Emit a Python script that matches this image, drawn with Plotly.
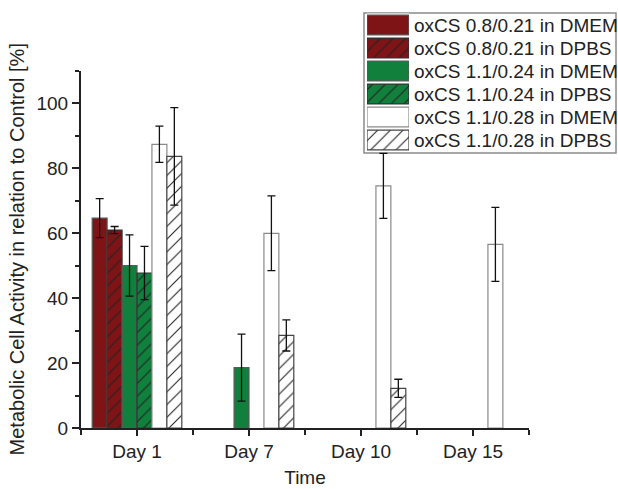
import plotly.graph_objects as go

days = ["Day 1", "Day 7", "Day 10", "Day 15"]
day_pos = [0, 1, 2, 3]

series_names = [
    "oxCS 0.8/0.21 in DMEM",
    "oxCS 0.8/0.21 in DPBS",
    "oxCS 1.1/0.24 in DMEM",
    "oxCS 1.1/0.24 in DPBS",
    "oxCS 1.1/0.28 in DMEM",
    "oxCS 1.1/0.28 in DPBS",
]
values = [
    [64.6, None, None, None],
    [60.9, None, None, None],
    [50.0, 18.6, None, None],
    [47.7, None, None, None],
    [87.3, 59.9, 74.5, 56.5],
    [83.6, 28.5, 12.2, None],
]
errors = [
    [6.0, None, None, None],
    [1.1, None, None, None],
    [9.4, 10.3, None, None],
    [8.2, None, None, None],
    [5.6, 11.5, 10.0, 11.4],
    [15.0, 4.8, 2.8, None],
]

RED = "#7e1416"
GREEN = "#10803c"
fills = [RED, RED, GREEN, GREEN, "#ffffff", "#ffffff"]
hatched = [False, True, False, True, False, True]
outlines = ["#5a5a5a", "#333333", "#5a5a5a", "#333333", "#8a8a8a", "#444444"]

FONT = "Liberation Sans, Arial, sans-serif"
INK = "#222222"


def marker_for(i):
    m = dict(color=fills[i], line=dict(color=outlines[i], width=1.2))
    if hatched[i]:
        m["pattern"] = dict(shape="/", fgcolor="#222222", bgcolor=fills[i],
                            size=9, solidity=0.12, fillmode="replace")
    return m


fig = go.Figure()
for i, name in enumerate(series_names):
    fig.add_trace(go.Bar(
        x=day_pos, y=values[i], name=name, showlegend=False,
        marker=marker_for(i),
        error_y=dict(type="data", array=errors[i], visible=True,
                     color="#111111", thickness=1.3, width=4),
    ))

# custom legend: swatches drawn as bars on an inset axis
for i, name in enumerate(series_names):
    fig.add_trace(go.Bar(
        x=[1], y=[name], orientation="h", xaxis="x2", yaxis="y2",
        width=0.86, showlegend=False, hoverinfo="skip",
        marker=marker_for(i),
    ))

W, H = 618, 489
ML, MR, MT, MB = 81, 1, 10, 489 - 428
PW, PH = W - ML - MR, H - MT - MB


def px(xp):
    return (xp - ML) / PW


def py(yp):
    return (H - MB - yp) / PH


fig.add_shape(type="rect", xref="paper", yref="paper",
              x0=px(364), x1=px(616), y0=py(153), y1=py(13),
              line=dict(color="#8a8a8a", width=1.5), fillcolor="white",
              layer="below")

fig.update_layout(
    width=W, height=H,
    margin=dict(l=ML, r=MR, t=MT, b=MB),
    paper_bgcolor="white", plot_bgcolor="white",
    barmode="group", bargap=0.2, bargroupgap=0,
    font=dict(family=FONT, size=19, color=INK),
    xaxis=dict(
        domain=[0, px(529)],
        range=[-0.5, 3.5], tickvals=day_pos, ticktext=days,
        showline=True, linecolor=INK, linewidth=2, showgrid=False, zeroline=False,
        ticks="outside", ticklen=6, tickwidth=2, tickcolor=INK,
        minor=dict(tickvals=[-0.5, 0.5, 1.5, 2.5, 3.5], ticks="outside",
                   ticklen=5, tickwidth=2, tickcolor=INK),
        title=dict(text="Time", font=dict(size=19), standoff=10),
        tickfont=dict(size=19), automargin=False, ticklabelstandoff=-1,
    ),
    yaxis=dict(
        domain=[0, py(70.5)],
        range=[0, 110], tickvals=[0, 20, 40, 60, 80, 100],
        showline=True, linecolor=INK, linewidth=2, showgrid=False, zeroline=False,
        ticks="outside", ticklen=7, tickwidth=2, tickcolor=INK,
        minor=dict(tickvals=[10, 30, 50, 70, 90, 110], ticks="outside",
                   ticklen=4, tickwidth=2, tickcolor=INK),
        title=dict(text="Metabolic Cell Activity in relation to Control [%]",
                   font=dict(size=20), standoff=6),
        tickfont=dict(size=19), automargin=False,
    ),
    xaxis2=dict(domain=[px(367), px(409)], anchor="y2", range=[0, 1],
                visible=False, fixedrange=True),
    yaxis2=dict(domain=[py(151.5), py(13.5)], anchor="x2", side="right",
                type="category", categoryorder="array", categoryarray=series_names,
                tickmode="array", tickvals=series_names, ticktext=series_names,
                range=[5.5, -0.5], showline=False, showgrid=False, zeroline=False,
                ticks="", tickfont=dict(size=19, color=INK), ticklabelstandoff=4,
                fixedrange=True, automargin=False),
)

fig.write_html(
    "out.html",
    config={"displayModeBar": False, "staticPlot": True},
    post_script="document.body.style.margin='0px';document.body.style.overflow='hidden';",
)
